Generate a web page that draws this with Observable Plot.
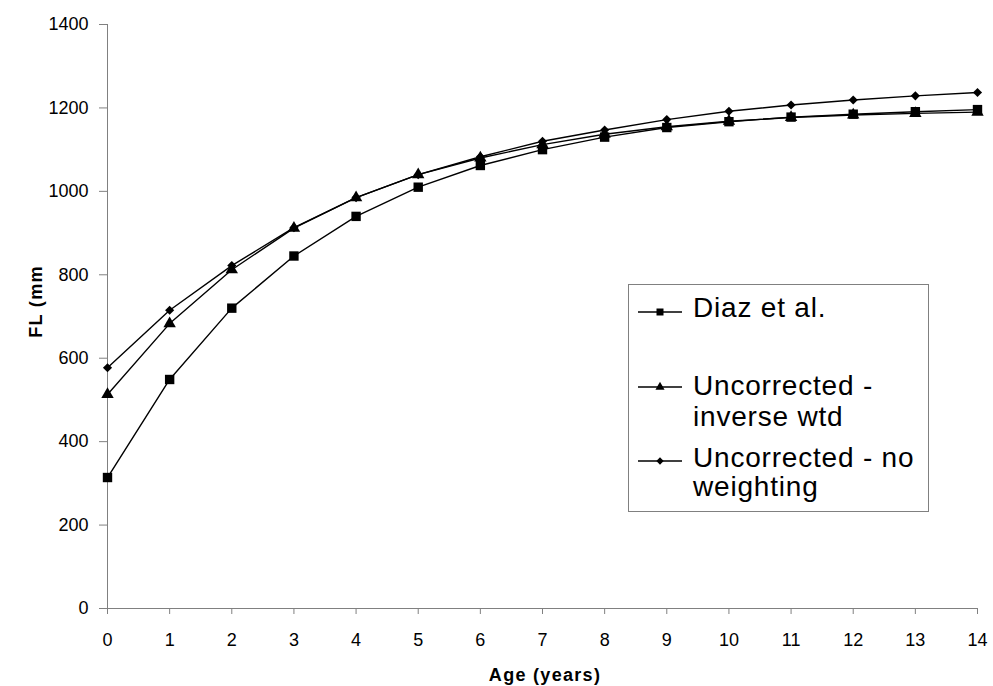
<!DOCTYPE html>
<html>
<head>
<meta charset="utf-8">
<script src="https://cdn.jsdelivr.net/npm/d3@7"></script>
<script src="https://cdn.jsdelivr.net/npm/@observablehq/plot@0.6"></script>
<style>
  html, body { margin: 0; padding: 0; background: #fff; }
  #chart { width: 993px; height: 686px; }
  svg { display: block; }
</style>
</head>
<body>
<div id="chart"></div>
<script>
// ---- Data ----
const ages = [0, 1, 2, 3, 4, 5, 6, 7, 8, 9, 10, 11, 12, 13, 14];
const diaz        = [314, 549, 720, 845, 940, 1010, 1062, 1100, 1130, 1153, 1167, 1178, 1185, 1191, 1196];
const inverseWtd  = [513, 683, 812, 912, 985, 1040, 1080, 1112, 1137, 1155, 1168, 1177, 1183, 1187, 1190];
const noWeighting = [577, 715, 822, 913, 985, 1040, 1083, 1120, 1147, 1172, 1192, 1207, 1219, 1229, 1237];
const seriesNames = ["Diaz et al.", "Uncorrected - inverse wtd", "Uncorrected - no weighting"];
const legendLines = [["Diaz et al."], ["Uncorrected -", "inverse wtd"], ["Uncorrected - no", "weighting"]];
const xTicks = ages;
const yTicks = [0, 200, 400, 600, 800, 1000, 1200, 1400];
const xTitle = "Age (years)";
const yTitle = "FL (mm";

const seriesValues = [diaz, inverseWtd, noWeighting];
const rows = seriesNames.flatMap((s, i) => ages.map((a, j) => ({series: s, age: a, fl: seriesValues[i][j]})));
const symbols = ["square", "triangle", "diamond2"];
const radii = [5.3, 4.6, 4.1];

const font = "'Liberation Sans', Arial, sans-serif";

const plot = Plot.plot({
  width: 993,
  height: 686,
  marginLeft: 107,
  marginRight: 16,
  marginTop: 24,
  marginBottom: 78,
  style: {fontFamily: font, fontSize: "18px", color: "black", background: "white"},
  x: {domain: [0, 14], label: null},
  y: {domain: [0, 1400], label: null},
  marks: [
    Plot.axisY({ticks: yTicks, tickSize: 8, tickPadding: 11, stroke: "#808080", fill: "black", fontSize: 18, label: null, tickFormat: d => String(d)}),
    Plot.axisX({ticks: xTicks, tickSize: 6, tickPadding: 19, stroke: "#808080", fill: "black", fontSize: 18, label: null, tickFormat: d => String(d)}),
    Plot.ruleX([0], {stroke: "#808080", strokeWidth: 1}),
    Plot.ruleY([0], {stroke: "#808080", strokeWidth: 1}),
    Plot.line(rows, {x: "age", y: "fl", z: "series", stroke: "black", strokeWidth: 1.4}),
    ...seriesNames.map((s, i) =>
      Plot.dot(rows.filter(d => d.series === s), {x: "age", y: "fl", symbol: symbols[i], r: radii[i], fill: "black", stroke: "none"})
    )
  ]
});

document.getElementById("chart").appendChild(plot);

const svg = d3.select(plot);

// Axis titles
svg.append("text")
  .attr("x", 545).attr("y", 681)
  .attr("text-anchor", "middle")
  .attr("font-family", font).attr("font-weight", "bold").attr("font-size", 18)
  .attr("letter-spacing", "1.3px")
  .text(xTitle);

svg.append("text")
  .attr("transform", "translate(41.5,301.5) rotate(-90)")
  .attr("text-anchor", "middle")
  .attr("font-family", font).attr("font-weight", "bold").attr("font-size", 18)
  .attr("letter-spacing", "1.3px")
  .text(yTitle);

// Legend
const lg = svg.append("g").attr("text-anchor", "start");
lg.append("rect")
  .attr("x", 628.5).attr("y", 284.5).attr("width", 300).attr("height", 227)
  .attr("fill", "white").attr("stroke", "#808080").attr("stroke-width", 1);

const legendLineY = [312, 387, 461];
const legendBaselines = [[317], [395, 426], [467, 496]];
const legendSym = [d3.symbolSquare, d3.symbolTriangle, d3.symbolDiamond2];
const legendSize = [49, 36, 34];
seriesNames.forEach((s, i) => {
  lg.append("line")
    .attr("x1", 638).attr("x2", 682)
    .attr("y1", legendLineY[i]).attr("y2", legendLineY[i])
    .attr("stroke", "black").attr("stroke-width", 1.4);
  lg.append("path")
    .attr("transform", `translate(660,${legendLineY[i]})`)
    .attr("d", d3.symbol(legendSym[i], legendSize[i])())
    .attr("fill", "black");
  legendLines[i].forEach((t, k) => {
    lg.append("text")
      .attr("x", 693).attr("y", legendBaselines[i][k])
      .attr("text-anchor", "start")
      .attr("font-family", font).attr("font-size", 28)
      .attr("letter-spacing", "0.8px")
      .attr("fill", "black")
      .text(t);
  });
});
</script>
</body>
</html>
